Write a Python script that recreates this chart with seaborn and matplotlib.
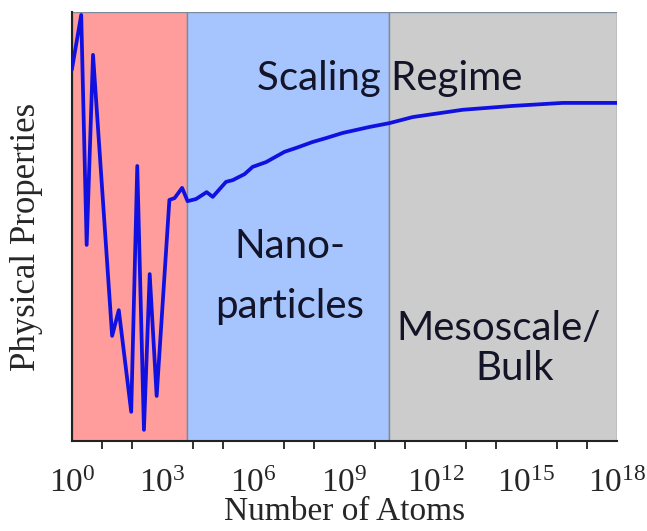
import numpy as np
import pandas as pd
import matplotlib
matplotlib.use("Agg")
import matplotlib.pyplot as plt
import seaborn as sns

# Property curve versus cluster size (log10 of number of atoms)
log_atoms = [0.0, 0.31, 0.49, 0.70, 1.33, 1.55, 1.96, 2.16, 2.38, 2.57, 2.80,
             3.22, 3.39, 3.64, 3.82, 4.10, 4.45, 4.65, 5.09, 5.31, 5.70, 5.97,
             6.41, 7.02, 7.40, 7.95, 8.39, 8.94, 9.83, 10.49, 11.25, 12.90,
             14.55, 16.20, 18.0]
prop = [86.5, 99.3, 45.7, 90.0, 24.5, 30.5, 6.8, 64.1, 2.6, 38.9, 10.5,
        56.2, 56.6, 59.0, 55.9, 56.4, 58.0, 56.9, 60.4, 60.8, 62.2, 63.9,
        65.0, 67.4, 68.3, 69.7, 70.6, 71.8, 73.2, 74.1, 75.5, 77.2,
        78.1, 78.8, 78.8]

# Size regimes (log10 bounds)
regime_bounds = [0.0, 3.8, 10.47, 18.0]
regime_colors = ["#FF9D9D", "#A6C4FD", "#CCCCCC"]

sns.set_theme(style="white")
plt.rcParams["font.family"] = ["Liberation Serif", "DejaVu Serif"]
plt.rcParams["mathtext.fontset"] = "custom"
plt.rcParams["mathtext.rm"] = "Liberation Serif"
plt.rcParams["mathtext.it"] = "Liberation Serif:italic"

df = pd.DataFrame({"atoms": 10.0 ** np.array(log_atoms), "prop": prop})

fig = plt.figure(figsize=(6.47, 5.31), dpi=100)
ax = fig.add_axes([0.111, 0.1695, 0.843, 0.808])

for lo, hi, c in zip(regime_bounds[:-1], regime_bounds[1:], regime_colors):
    ax.axvspan(10.0 ** lo, 10.0 ** hi, facecolor=c, edgecolor="#7C8A9C",
               linewidth=1.0, zorder=0)

sns.lineplot(data=df, x="atoms", y="prop", ax=ax, color="#1010E0",
             linewidth=2.7, zorder=3)

ax.set_xscale("log")
ax.set_xlim(1, 1e18)
ax.set_ylim(0, 100)
ax.set_yticks([])
ax.set_xticks([10.0 ** k for k in range(0, 19, 3)])
ax.xaxis.set_minor_locator(matplotlib.ticker.FixedLocator(
    [10.0 ** k for k in range(0, 19) if k % 3]))
ax.xaxis.set_minor_formatter(matplotlib.ticker.NullFormatter())
ax.tick_params(axis="x", which="major", direction="out", length=10,
               width=1.3, labelsize=24, pad=10, color="#222222")
ax.tick_params(axis="x", which="minor", direction="out", length=6,
               width=1.3, color="#222222", bottom=True)

for side in ["top", "right"]:
    ax.spines[side].set_visible(False)
for side in ["left", "bottom"]:
    ax.spines[side].set_color("#222222")
    ax.spines[side].set_linewidth(1.5)

ax.set_xlabel("Number of Atoms", fontsize=24, labelpad=-2)
ax.set_ylabel("Physical Properties", fontsize=25)
ax.yaxis.set_label_coords(-0.052, 0.475)

txt = dict(family=["Lato", "DejaVu Sans"], color="#141428", ha="center",
           va="center", fontsize=29)
ax.text(10 ** 10.5, 84.4, "Scaling Regime", **txt)
ax.text(10 ** 7.2, 45.3, "Nano-", **txt)
ax.text(10 ** 7.2, 31.3, "particles", **txt)
ax.text(10 ** 14.1, 26.3, "Mesoscale/", **txt)
ax.text(10 ** 14.6, 17.0, "Bulk", **txt)

fig.savefig("out.png", dpi=100)
